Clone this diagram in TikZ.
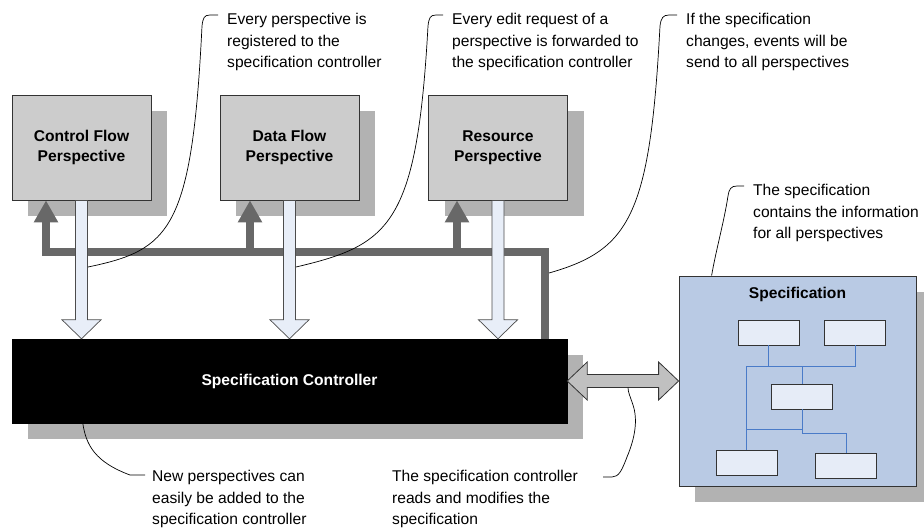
\documentclass[tikz,border=0pt]{standalone}
\usepackage{fontspec}
\setmainfont{Liberation Sans}
\usetikzlibrary{calc,shadows,arrows.meta}
\definecolor{persgray}{HTML}{CCCCCC}
\definecolor{shadowgray}{HTML}{B2B2B2}
\definecolor{busgray}{HTML}{686868}
\definecolor{requestblue}{HTML}{E8EEF8}
\definecolor{specblue}{HTML}{B9CAE4}
\definecolor{itemblue}{HTML}{E6ECF7}
\definecolor{linkblue}{HTML}{4A7BC8}
\definecolor{dualgray}{HTML}{C0C0C0}
\newcommand{\notefont}{\fontsize{15.6}{21.5}\selectfont}
\newcommand{\boxfont}{\fontsize{15.6}{20}\selectfont\bfseries}

\tikzset{
  boxshadow/.style={general shadow={fill=shadowgray, shadow xshift=16pt, shadow yshift=-16pt}},
  perspective/.style={draw=black!80, line width=0.8pt, fill=persgray, minimum width=139pt,
    minimum height=105pt, inner sep=0pt, align=center, font=\boxfont, boxshadow},
  controller/.style={draw=black, fill=black, text=white, minimum width=555pt,
    minimum height=84pt, font=\boxfont, boxshadow},
  specbox/.style={draw=black!80, line width=0.8pt, fill=specblue, minimum width=237pt,
    minimum height=210pt, boxshadow},
  item/.style={draw=black!80, line width=0.8pt, fill=itemblue, minimum width=61pt,
    minimum height=25pt, inner sep=0pt},
  link/.style={linkblue, line width=0.9pt},
  request/.style={draw=black!70, line width=0.7pt, fill=requestblue},
  dual/.style={draw=black!80, line width=0.8pt, fill=dualgray},
  bus/.style={busgray, line width=8pt, -{Triangle[width=23pt,length=22pt]}},
  note/.style={anchor=north west, inner sep=0pt, align=left, font=\notefont},
  leader/.style={black, line width=0.7pt}
}

\begin{document}
\begin{tikzpicture}[x=1pt, y=-1pt]
  \useasboundingbox (0,0) rectangle (924,531);

  % perspectives
  \node[perspective] (cf) at (81.5,147.5) {Control Flow\\Perspective};
  \node[perspective] (df) at (289.5,147.5) {Data Flow\\Perspective};
  \node[perspective] (rp) at (498,147.5) {Resource\\Perspective};

  % controller and specification
  \node[controller] (ctrl) at (289.5,381) {Specification Controller};
  \node[specbox] (spec) at (797.5,381) {};
  \node[font=\boxfont, anchor=north, inner sep=0pt] (spectitle) at ($(spec.north)+(0,11)$) {Specification};

  % parts of the specification
  \coordinate (j1) at (802,366);
  \coordinate (j2) at (802,429);
  \node[item] (s1) at (768.5,332.5) {};
  \node[item] (s2) at (855,332.5) {};
  \node[item] (s3) at (802,396.5) {};
  \node[item] (s4) at (746.5,462.5) {};
  \node[item] (s5) at (846,465.5) {};
  \draw[link] (s1.south) -- (s1.south |- j1);
  \draw[link] (s2.south) |- (s4.north |- j1) -- (s4.north);
  \draw[link] (j1) -- (s3.north);
  \draw[link] (s3.south) |- (s4.north |- j2);
  \draw[link] (s3.south) -- ($(s3.south)+(0,24)$) -| (s5.north);

  % events back to the perspectives
  \draw[bus] (ctrl.north -| 545,0) |- (46,252) -- (cf.south -| 46,0);
  \draw[bus] (250,252) -- (df.south -| 250,0);
  \draw[bus] (457,252) -- (rp.south -| 457,0);

  % edit requests
  \foreach \p in {cf,df,rp}
    \draw[request] ($(\p.south)+(-6,0)$) -- ($(\p.south |- ctrl.north)+(-6,-19)$)
      -- ++(-13.5,0) -- (\p.south |- ctrl.north) -- ++(19.5,-19) -- ++(-13.5,0)
      -- ($(\p.south)+(6,0)$) -- cycle;

  % read and modify
  \draw[dual] (ctrl.east) -- ++(20,-19) -- ++(0,12.5) -- ($(spec.west)+(-20,-6.5)$)
    -- ++(0,-12.5) -- (spec.west) -- ++(-20,19) -- ++(0,-12.5)
    -- ($(ctrl.east)+(20,6.5)$) -- ++(0,12.5) -- cycle;

  % notes
  \node[note] (c1) at (227,13) {Every perspective is\\registered to the\\specification controller};
  \node[note] (c2) at (452,13) {Every edit request of a\\perspective is forwarded to\\the specification controller};
  \node[note] (c3) at (686,13) {If the specification\\changes, events will be\\send to all perspectives};
  \node[note] (c4) at (753,184) {The specification\\contains the information\\for all perspectives};
  \node[note] (c5) at (152,470) {New perspectives can\\easily be added to the\\specification controller};
  \node[note] (c6) at (392,470) {The specification controller\\reads and modifies the\\specification};

  \coordinate (t1) at (88,267);
  \coordinate (t2) at (296,267);
  \coordinate (t3) at (549,273);
  \coordinate (t4) at ($(spec.north west)+(33,0)$);
  \coordinate (t5) at ($(ctrl.south west)+(71,0)$);
  \coordinate (t6) at (628,387.5);

  \draw[leader] ($(c1.north west)+(-9,2)$) -- (210,15) .. controls (204,15) and (203,18) .. (202,26)
    .. controls (192,230) and (170,250) .. (t1);
  \draw[leader] ($(c2.north west)+(-9,2)$) -- (436,15) .. controls (430,15) and (429,18) .. (428,26)
    .. controls (417,225) and (390,245) .. (t2);
  \draw[leader] ($(c3.north west)+(-9,2)$) -- (669,15) .. controls (663,15) and (661,18) .. (660,26)
    .. controls (650,215) and (630,250) .. (t3);
  \draw[leader] ($(c4.north west)+(-9,2)$) -- (737,186) .. controls (731,186) and (729,189) .. (728,196)
    .. controls (724,222) and (716,250) .. (t4);
  \draw[leader] ($(c5.north west)+(-7,5)$) -- (130,475) .. controls (95,462) and (86,445) .. (t5);
  \draw[leader] ($(c6.north west)+(211,7)$) -- (612,477) .. controls (619,477) and (622,470) .. (627,457)
    .. controls (635,438) and (638,420) .. (633,405) .. controls (630,396) and (628,392) .. (t6);
\end{tikzpicture}
\end{document}
